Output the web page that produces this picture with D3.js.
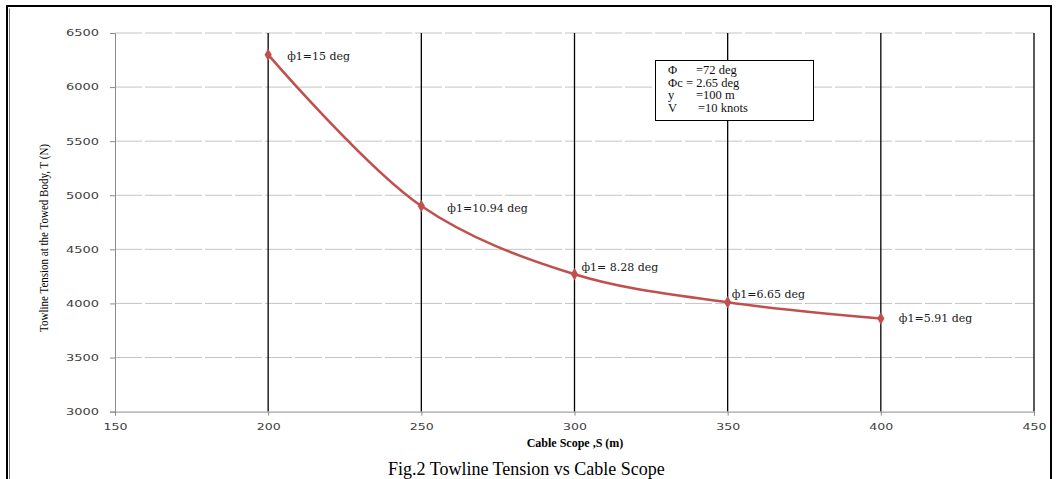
<!DOCTYPE html>
<html>
<head>
<meta charset="utf-8">
<script src="https://cdn.jsdelivr.net/npm/d3@7"></script>
<style>
  body { margin: 0; background: #fff; }
  svg { display: block; }
  .tick-label { font-family: "DejaVu Sans", sans-serif; font-size: 9px; fill: #404040; }
  .serif { font-family: "Liberation Serif", "Times New Roman", serif; }
  .note { font-family: "DejaVu Serif", "Liberation Serif", serif; font-size: 11px; fill: #1a1a1a; }
  .boxtxt { font-family: "Liberation Serif", "Times New Roman", serif; font-size: 12.5px; fill: #111; }
</style>
</head>
<body>
<div id="chart"></div>
<script>
// data
const scope = [200, 250, 300, 350, 400];
const tension = [6300, 4900, 4270, 4010, 3860];
const phiLabels = ["ф1=15 deg", "ф1=10.94 deg", "ф1= 8.28 deg", "ф1=6.65 deg", "ф1=5.91 deg"];
const xTicks = [150, 200, 250, 300, 350, 400, 450];
const yTicks = [3000, 3500, 4000, 4500, 5000, 5500, 6000, 6500];
const boxLines = [
  ["Φ", "=72 deg"],
  ["Φc", "= 2.65 deg"],
  ["y", "=100 m"],
  ["V", "=10 knots"]
];

// label offsets from each point (px)
const labelOffsets = [[19, 5], [26, 6], [7, -3], [4, -4], [18, 3]];

const W = 1058, H = 479;
const svg = d3.select("#chart").append("svg")
  .attr("width", W).attr("height", H);

const x = d3.scaleLinear().domain([150, 450]).range([115, 1034]);
const y = d3.scaleLinear().domain([3000, 6500]).range([411.6, 33]);

// outer frame
svg.append("path")
  .attr("d", `M7,${H} V6 H1051 V${H}`)
  .attr("fill", "none").attr("stroke", "#000").attr("stroke-width", 2);
svg.append("path")
  .attr("d", `M9.5,${H} V8.5`)
  .attr("fill", "none").attr("stroke", "#777").attr("stroke-width", 1);

// horizontal gridlines
svg.append("g")
  .selectAll("line")
  .data(yTicks.slice(1))
  .join("line")
  .attr("x1", x(150)).attr("x2", x(450))
  .attr("y1", d => y(d)).attr("y2", d => y(d))
  .attr("stroke", "#c4c4c4").attr("stroke-width", 1)
  .attr("stroke-dasharray", "27,3");

// vertical gridlines (black)
svg.append("g")
  .selectAll("line")
  .data(xTicks.slice(1))
  .join("line")
  .attr("x1", d => x(d)).attr("x2", d => x(d))
  .attr("y1", y(6500)).attr("y2", y(3000))
  .attr("stroke", "#000").attr("stroke-width", 1.3);

// axes
const xAxis = svg.append("g")
  .attr("transform", `translate(0,${y(3000)})`)
  .call(d3.axisBottom(x).tickValues(xTicks).tickFormat(d3.format("d")).tickSize(4).tickPadding(8));
const yAxis = svg.append("g")
  .attr("transform", `translate(${x(150)},0)`)
  .call(d3.axisLeft(y).tickValues(yTicks).tickFormat(d3.format("d")).tickSize(5).tickPadding(11));
[xAxis, yAxis].forEach(a => {
  a.select(".domain").attr("stroke", "#8c8c8c");
  a.selectAll(".tick line").attr("stroke", "#8c8c8c");
  a.selectAll(".tick text")
    .attr("class", "tick-label")
    .attr("fill", null)
    .attr("font-family", null)
    .attr("font-size", null);
});
yAxis.selectAll(".tick text")
  .attr("textLength", 33).attr("lengthAdjust", "spacingAndGlyphs");
xAxis.selectAll(".tick text")
  .attr("textLength", 24).attr("lengthAdjust", "spacingAndGlyphs");

// axis titles
svg.append("text")
  .attr("class", "serif")
  .attr("x", 575).attr("y", 447)
  .attr("text-anchor", "middle")
  .attr("font-size", 12).attr("font-weight", "bold")
  .text("Cable Scope ,S (m)");

svg.append("text")
  .attr("class", "serif")
  .attr("transform", `translate(48,238) rotate(-90)`)
  .attr("text-anchor", "middle")
  .attr("font-size", 13)
  .attr("textLength", 188).attr("lengthAdjust", "spacingAndGlyphs")
  .text("Towline Tension at the Towed Body, T (N)");

// figure caption at the bottom
svg.append("text")
  .attr("class", "serif")
  .attr("x", 388).attr("y", 475)
  .attr("font-size", 18)
  .text("Fig.2 Towline Tension vs Cable Scope");

// series
const pts = scope.map((s, i) => ({ s, t: tension[i], label: phiLabels[i], off: labelOffsets[i] }));
const line = d3.line()
  .x(d => x(d.s)).y(d => y(d.t))
  .curve(d3.curveCatmullRom.alpha(0.5));

svg.append("path")
  .datum(pts)
  .attr("d", line)
  .attr("fill", "none")
  .attr("stroke", "#c0504d")
  .attr("stroke-width", 2.5);

svg.append("g")
  .selectAll("path")
  .data(pts)
  .join("path")
  .attr("d", d3.symbol().type(d3.symbolDiamond).size(45))
  .attr("transform", d => `translate(${x(d.s)},${y(d.t)})`)
  .attr("fill", "#c0504d");

svg.append("g")
  .selectAll("text")
  .data(pts)
  .join("text")
  .attr("class", "note")
  .attr("x", d => x(d.s) + d.off[0])
  .attr("y", d => y(d.t) + d.off[1])
  .text(d => d.label);

// parameter box
svg.append("rect")
  .attr("x", 655.5).attr("y", 60.5)
  .attr("width", 158).attr("height", 60)
  .attr("fill", "#fff").attr("stroke", "#000").attr("stroke-width", 1);

const eqX = [696, 686, 696, 698];
const box = svg.append("g");
boxLines.forEach((l, i) => {
  box.append("text").attr("class", "boxtxt")
    .attr("x", 668).attr("y", 74 + i * 12.5).text(l[0]);
  box.append("text").attr("class", "boxtxt")
    .attr("x", eqX[i]).attr("y", 74 + i * 12.5).text(l[1]);
});
</script>
</body>
</html>
